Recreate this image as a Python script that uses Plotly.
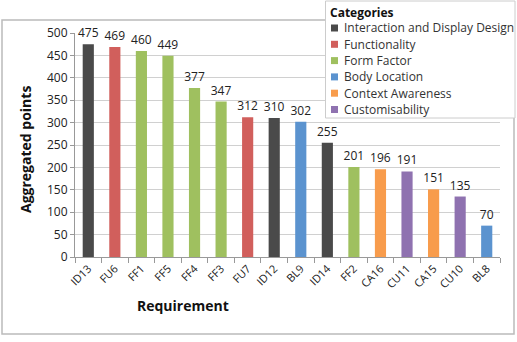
import plotly.graph_objects as go

requirements = ["ID13", "FU6", "FF1", "FF5", "FF4", "FF3", "FU7", "ID12", "BL9", "ID14",
                "FF2", "CA16", "CU11", "CA15", "CU10", "BL8"]
points = [475, 469, 460, 449, 377, 347, 312, 310, 302, 255, 201, 196, 191, 151, 135, 70]
req_category = ["Interaction and Display Design", "Functionality", "Form Factor", "Form Factor",
                "Form Factor", "Form Factor", "Functionality", "Interaction and Display Design",
                "Body Location", "Interaction and Display Design", "Form Factor",
                "Context Awareness", "Customisability", "Context Awareness", "Customisability",
                "Body Location"]
categories = ["Interaction and Display Design", "Functionality", "Form Factor",
              "Body Location", "Context Awareness", "Customisability"]
colors = ["#4a4a4a", "#d15f5c", "#9fc05f", "#5b93cf", "#f89c4c", "#8f72b0"]

W, H = 517, 342
L, R, T, B = 75, 17, 33, 85
PW, PH = W - L - R, H - T - B


def px(x):
    return (x - L) / PW


def py(y):
    return (H - B - y) / PH


fig = go.Figure()
for cat, col in zip(categories, colors):
    xs = [r for r, c in zip(requirements, req_category) if c == cat]
    ys = [p for p, c in zip(points, req_category) if c == cat]
    fig.add_trace(go.Bar(
        x=xs, y=ys, name=cat, marker=dict(color=col, line=dict(width=0)),
        text=[str(v) for v in ys], textposition="outside", cliponaxis=False,
        constraintext="none",
        textfont=dict(size=12, color="#222"), width=0.42,
    ))

font = "Open Sans, Lato, sans-serif"

annotations = [
    dict(text="<b>Aggregated points</b>", xref="paper", yref="paper",
         x=px(25), y=py(150), textangle=-90, showarrow=False,
         font=dict(size=14, color="#111"), xanchor="center", yanchor="middle"),
    dict(text="<b>Requirement</b>", xref="paper", yref="paper",
         x=px(183), y=py(305), showarrow=False,
         font=dict(size=14, color="#111"), xanchor="center", yanchor="middle"),
    dict(text="<b>Categories</b>", xref="paper", yref="paper",
         x=px(328), y=py(12), showarrow=False,
         font=dict(size=12, color="#111"), xanchor="left", yanchor="middle"),
]
shapes = [
    dict(type="rect", xref="paper", yref="paper",
         x0=px(2), x1=px(514), y0=py(334), y1=py(20),
         line=dict(color="#bbbbbb", width=1.5), layer="below"),
    dict(type="rect", xref="paper", yref="paper",
         x0=px(325.5), x1=px(515), y0=py(118), y1=py(1),
         line=dict(color="#cccccc", width=1), fillcolor="white", layer="above"),
]
for i, (cat, col) in enumerate(zip(categories, colors)):
    yc = 28 + i * 16.3
    shapes.append(dict(type="rect", xref="paper", yref="paper",
                       x0=px(331), x1=px(338), y0=py(yc + 3.5), y1=py(yc - 3.5),
                       line=dict(width=0), fillcolor=col, layer="above"))
    annotations.append(dict(text=cat, xref="paper", yref="paper",
                            x=px(342), y=py(yc), showarrow=False,
                            font=dict(size=12, color="#333"),
                            xanchor="left", yanchor="middle"))

fig.update_layout(
    width=W, height=H, barmode="overlay", showlegend=False,
    margin=dict(l=L, r=R, t=T, b=B, autoexpand=False),
    paper_bgcolor="white", plot_bgcolor="white",
    font=dict(family=font, size=11, color="#222"),
    xaxis=dict(
        categoryorder="array", categoryarray=requirements,
        tickangle=-45, tickfont=dict(size=11),
        showline=True, linecolor="#999", linewidth=1,
        ticks="outside", tickson="boundaries", ticklen=5, tickcolor="#999",
        showgrid=False,
    ),
    yaxis=dict(
        range=[0, 500], dtick=50, tickfont=dict(size=12),
        showline=True, linecolor="#999", linewidth=1,
        ticks="outside", ticklen=4, tickcolor="#999",
        showgrid=True, gridcolor="#d0d0d0", gridwidth=1, zeroline=False,
    ),
    annotations=annotations,
    shapes=shapes,
)

fig.write_html("out.html")
